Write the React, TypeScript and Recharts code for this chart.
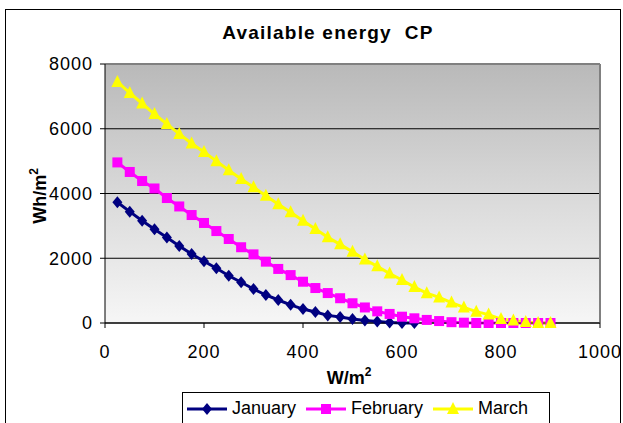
import React from 'react';
import {
  LineChart,
  Line,
  XAxis,
  YAxis,
  CartesianGrid,
  ReferenceLine,
  Label,
} from 'recharts';

// irradiance threshold (W/m2)
const irradiance = [
  25, 50, 75, 100, 125, 150, 175, 200, 225, 250, 275, 300,
  325, 350, 375, 400, 425, 450, 475, 500, 525, 550, 575, 600,
  625, 650, 675, 700, 725, 750, 775, 800, 825, 850, 875, 900,
];

// available energy (Wh/m2)
const january = [
  3730, 3440, 3160, 2895, 2640, 2380, 2130, 1905, 1690, 1460, 1260, 1050,
  865, 710, 560, 430, 340, 235, 185, 125, 80, 45, 15, 0,
  0,
];
const february = [
  4960, 4665, 4385, 4155, 3860, 3600, 3335, 3090, 2840, 2595, 2340, 2120,
  1895, 1670, 1480, 1275, 1080, 925, 765, 610, 480, 360, 280, 195,
  145, 95, 60, 25, 10, 0, 0, 0, 0, 0, 0, 0,
];
const march = [
  7445, 7105, 6780, 6455, 6145, 5840, 5545, 5280, 5000, 4720, 4450, 4190,
  3930, 3670, 3420, 3160, 2905, 2650, 2430, 2200, 1960, 1750, 1530, 1330,
  1110, 920, 790, 630, 480, 350, 260, 120, 80, 30, 0, 0,
];

const xTicks = [0, 200, 400, 600, 800, 1000];
const yTicks = [0, 2000, 4000, 6000, 8000];

const rows = irradiance.map((x, i) => ({
  x,
  january: i < january.length ? january[i] : null,
  february: february[i],
  march: march[i],
}));

const FONT = '"Liberation Sans", Arial, sans-serif';

const Diamond = ({ cx, cy, fill }: any) =>
  cx == null || cy == null ? <g /> : (
    <path d={`M${cx},${cy - 6}L${cx + 5},${cy}L${cx},${cy + 6}L${cx - 5},${cy}Z`} fill={fill} />
  );
const Square = ({ cx, cy, fill }: any) =>
  cx == null || cy == null ? <g /> : (
    <rect x={cx - 5} y={cy - 5} width={10} height={10} fill={fill} />
  );
const Triangle = ({ cx, cy, fill }: any) =>
  cx == null || cy == null ? <g /> : (
    <path d={`M${cx},${cy - 7}L${cx + 6},${cy + 5}L${cx - 6},${cy + 5}Z`} fill={fill} />
  );

const series = [
  { key: 'january', name: 'January', color: '#000080', Marker: Diamond },
  { key: 'february', name: 'February', color: '#FF00FF', Marker: Square },
  { key: 'march', name: 'March', color: '#FFFF00', Marker: Triangle },
];

const LegendBox = () => (
  <div
    style={{
      position: 'absolute',
      left: 182,
      top: 392,
      width: 368,
      height: 40,
      border: '1px solid #000',
      background: '#fff',
      display: 'flex',
      alignItems: 'flex-start',
      paddingTop: 5,
      paddingLeft: 4,
      boxSizing: 'border-box',
      fontFamily: FONT,
      fontSize: 18,
      color: '#000',
    }}
  >
    {series.map(({ key, name, color, Marker }) => (
      <div key={key} style={{ display: 'flex', alignItems: 'center', marginRight: 10 }}>
        <svg width={40} height={20}>
          <line x1={0} y1={10} x2={40} y2={10} stroke={color} strokeWidth={3} />
          <Marker cx={20} cy={10} fill={color} />
        </svg>
        <span style={{ marginLeft: 5 }}>{name}</span>
      </div>
    ))}
  </div>
);

export default function App() {
  return (
    <div
      style={{
        position: 'absolute',
        left: 0,
        top: 0,
        width: 623,
        height: 423,
        overflow: 'hidden',
        background: '#fff',
      }}
    >
      <div
        style={{
          position: 'absolute',
          left: 5,
          top: 9,
          width: 614,
          height: 440,
          border: '1px solid #000',
        }}
      />
      <div
        style={{
          position: 'absolute',
          left: 0,
          top: 22,
          width: 656,
          textAlign: 'center',
          fontFamily: FONT,
          fontWeight: 'bold',
          fontSize: 19,
          letterSpacing: 1.2,
        }}
      >
        Available energy&nbsp; CP
      </div>
      <LineChart
        width={623}
        height={423}
        data={rows}
        margin={{ top: 64, right: 23, bottom: 70, left: 0 }}
        style={{ position: 'absolute', left: 0, top: 0 }}
      >
        <defs>
          <linearGradient id="plotBg" x1="0" y1="0" x2="0" y2="1">
            <stop offset="0%" stopColor="#b9b9b9" />
            <stop offset="55%" stopColor="#dcdcdc" />
            <stop offset="100%" stopColor="#f6f6f6" />
          </linearGradient>
        </defs>
        <CartesianGrid vertical={false} stroke="#000" fill="url(#plotBg)" fillOpacity={1} />
        <XAxis
          dataKey="x"
          type="number"
          domain={[0, 1000]}
          ticks={xTicks}
          tickSize={5}
          tickMargin={17}
          height={30}
          stroke="#000"
          tick={{ fill: '#000', fontSize: 18, fontFamily: FONT, letterSpacing: 1 }}
          axisLine={{ stroke: '#000' }}
        >
          <Label
            content={() => (
              <text x={349} y={384} textAnchor="middle" fontFamily={FONT} fontWeight="bold" fontSize={18} fill="#000">
                W/m<tspan dy={-8} fontSize={12}>2</tspan>
              </text>
            )}
          />
        </XAxis>
        <YAxis
          type="number"
          domain={[0, 8000]}
          ticks={yTicks}
          width={105}
          tickSize={5}
          tickMargin={7}
          stroke="#000"
          tick={{ fill: '#000', fontSize: 18, fontFamily: FONT, letterSpacing: 1 }}
          axisLine={{ stroke: '#000' }}
        >
          <Label
            content={() => (
              <text
                x={46}
                y={196}
                transform="rotate(-90 46 196)"
                textAnchor="middle"
                fontFamily={FONT}
                fontWeight="bold"
                fontSize={18}
                fill="#000"
              >
                Wh/m<tspan dy={-8} fontSize={12}>2</tspan>
              </text>
            )}
          />
        </YAxis>
        <ReferenceLine y={8000} stroke="#808080" strokeWidth={2} />
        <ReferenceLine x={1000} stroke="#808080" strokeWidth={2} />
        {series.map(({ key, name, color, Marker }) => (
          <Line
            key={key}
            dataKey={key}
            name={name}
            type="linear"
            stroke={color}
            strokeWidth={3}
            dot={(p: any) => <Marker key={`${key}-${p.index}`} cx={p.cx} cy={p.cy} fill={color} />}
            activeDot={false}
            isAnimationActive={false}
          />
        ))}
      </LineChart>
      <LegendBox />
    </div>
  );
}
